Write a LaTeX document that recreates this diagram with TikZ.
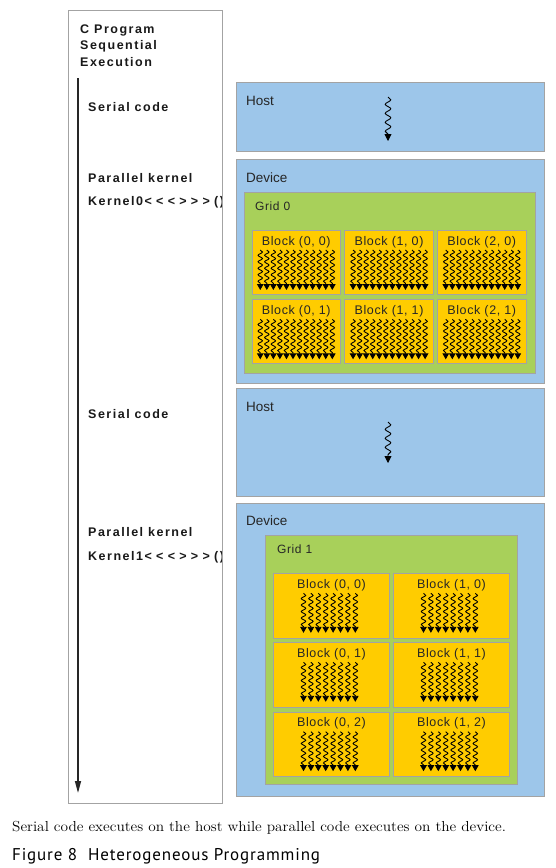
\documentclass[tikz,border=0pt]{standalone}
\usepackage{graphicx}
\usepackage{fontspec}
\usetikzlibrary{decorations.pathmorphing,arrows.meta}
\newfontfamily\lblsans[LetterSpace=12]{Liberation Sans}
\newfontfamily\boxsans{Liberation Sans}
\newfontfamily\blksans[LetterSpace=5]{Liberation Sans}
\newfontfamily\figsans[LetterSpace=5]{PT Sans}
\definecolor{hostblue}{HTML}{9DC6EA}
\definecolor{gridgreen}{HTML}{A8D05A}
\definecolor{blockyel}{HTML}{FFCC00}
\definecolor{edgegray}{HTML}{A3A3A3}
\newcommand\kgap{\hspace{4.3pt}}
\tikzset{
  panel/.style={draw=edgegray,line width=1pt,fill=hostblue,anchor=north west,inner sep=0pt},
  gridbox/.style={draw=edgegray,line width=1pt,fill=gridgreen,anchor=north west,inner sep=0pt},
  blockbox/.style={draw=edgegray,line width=1pt,fill=blockyel,anchor=north west,inner sep=0pt},
  seqlbl/.style={anchor=base west,inner sep=0pt,font=\lblsans\bfseries\fontsize{12.5}{14}\selectfont,text=black!90},
  boxlbl/.style={anchor=base west,inner sep=0pt,font=\boxsans\fontsize{13.5}{15}\selectfont,text=black!85},
  blklbl/.style={anchor=base,inner sep=0pt,font=\blksans\fontsize{12.5}{14}\selectfont,text=black!85},
  thread/.style={line width=0.9pt,black,decorate,
     decoration={snake,amplitude=2.2pt,segment length=6.5pt,post length=5pt},
     -{Triangle[length=6pt,width=6.6pt]}},
  hthread/.style={line width=0.9pt,black,decorate,
     decoration={snake,amplitude=2.8pt,segment length=9pt,post length=6pt},
     -{Triangle[length=7pt,width=7pt]}}
}
\begin{document}
\begin{tikzpicture}[x=1pt,y=-1pt]
\useasboundingbox (0,0) rectangle (556,868);
% left sequential column
\node[draw=edgegray,line width=1pt,fill=white,anchor=north west,minimum width=154pt,minimum height=793pt,inner sep=0pt] (seq) at (68,10) {};
\begin{scope}
\clip (68,10) rectangle (221.5,803);
\node[seqlbl] (t1) at (80,33) {C Program};
\node[seqlbl] (t2) at (80,49.5) {Sequential};
\node[seqlbl] (t3) at (80,66) {Execution};
\node[seqlbl] (s1) at (88,111.5) {Serial code};
\node[seqlbl] (p1) at (88,182) {Parallel kernel};
\node[seqlbl] (k0) at (88,205) {Kernel0<\kgap<\kgap<\kgap>\kgap>\kgap>\kgap()};
\node[seqlbl] (s2) at (88,418) {Serial code};
\node[seqlbl] (p2) at (88,536) {Parallel kernel};
\node[seqlbl] (k1) at (88,560) {Kernel1<\kgap<\kgap<\kgap>\kgap>\kgap>\kgap()};
\end{scope}
\coordinate (atop) at (78,78);
\coordinate (abot) at (78,793);
\draw[line width=1.5pt,black!85,-{Triangle[length=12pt,width=6pt]}] (atop) -- (abot);

% Host 1
\node[panel,minimum width=308.5pt,minimum height=69pt] (host1) at (235.5,82) {};
\node[boxlbl] (host1l) at (246,105.5) {Host};
\coordinate (h1a) at (388,97);
\coordinate (h1b) at (388,141);
\draw[hthread] (h1a) -- (h1b);

% Device 1
\node[panel,minimum width=308.5pt,minimum height=224pt] (dev1) at (235.5,158.5) {};
\node[boxlbl] (dev1l) at (246,182) {Device};
\node[gridbox,minimum width=290.5pt,minimum height=180.5pt] (grid0) at (244,192) {};
\node[boxlbl,font=\blksans\fontsize{12}{14}\selectfont] (grid0l) at (255,210) {Grid 0};
\foreach \cx/\xx in {0/251.5,1/344.3,2/437}{
  \foreach \ry/\yy in {0/230,1/299.3}{
    \node[blockbox,minimum width=88.5pt,minimum height=64pt] (b\cx\ry) at (\xx,\yy) {};
    \node[blklbl] (b\cx\ry l) at ([yshift=-15pt]b\cx\ry.north) {Block (\cx, \ry)};
    \foreach \k in {0,...,11}{
      \coordinate (b\cx\ry t\k) at ([xshift=-36pt+\k*6.55pt,yshift=-20pt]b\cx\ry.north);
      \coordinate (b\cx\ry e\k) at ([xshift=-36pt+\k*6.55pt,yshift=-60pt]b\cx\ry.north);
      \draw[thread] (b\cx\ry t\k) -- (b\cx\ry e\k);
    }
  }
}

% Host 2
\node[panel,minimum width=308.5pt,minimum height=108.5pt] (host2) at (235.5,387.5) {};
\node[boxlbl] (host2l) at (246,411) {Host};
\coordinate (h2a) at (388,422);
\coordinate (h2b) at (388,463);
\draw[hthread] (h2a) -- (h2b);

% Device 2
\node[panel,minimum width=308pt,minimum height=293pt] (dev2) at (235.5,503) {};
\node[boxlbl] (dev2l) at (246,525) {Device};
\node[gridbox,minimum width=252pt,minimum height=248.5pt] (grid1) at (265,535) {};
\node[boxlbl,font=\blksans\fontsize{12}{14}\selectfont] (grid1l) at (277,553) {Grid 1};
\foreach \cx/\xx in {0/273.3,1/393.3}{
  \foreach \ry/\yy in {0/573.3,1/642.3,2/711.7}{
    \node[blockbox,minimum width=115.4pt,minimum height=64.5pt] (c\cx\ry) at (\xx,\yy) {};
    \node[blklbl] (c\cx\ry l) at ([yshift=-15pt]c\cx\ry.north) {Block (\cx, \ry)};
    \foreach \k in {0,...,7}{
      \coordinate (c\cx\ry t\k) at ([xshift=-28pt+\k*7.4pt,yshift=-20pt]c\cx\ry.north);
      \coordinate (c\cx\ry e\k) at ([xshift=-28pt+\k*7.4pt,yshift=-59.5pt]c\cx\ry.north);
      \draw[thread] (c\cx\ry t\k) -- (c\cx\ry e\k);
    }
  }
}

% captions
\node[anchor=base west,inner sep=0pt,font=\fontsize{14.5}{16}\selectfont] (cap) at (12,831.5) {\scalebox{1.058}[1]{Serial code executes on the host while parallel code executes on the device.}};
\node[anchor=base west,inner sep=0pt,font=\figsans\fontsize{17}{19}\selectfont] (fig) at (12,860) {Figure 8\hspace{11pt}Heterogeneous Programming};
\end{tikzpicture}
\end{document}
